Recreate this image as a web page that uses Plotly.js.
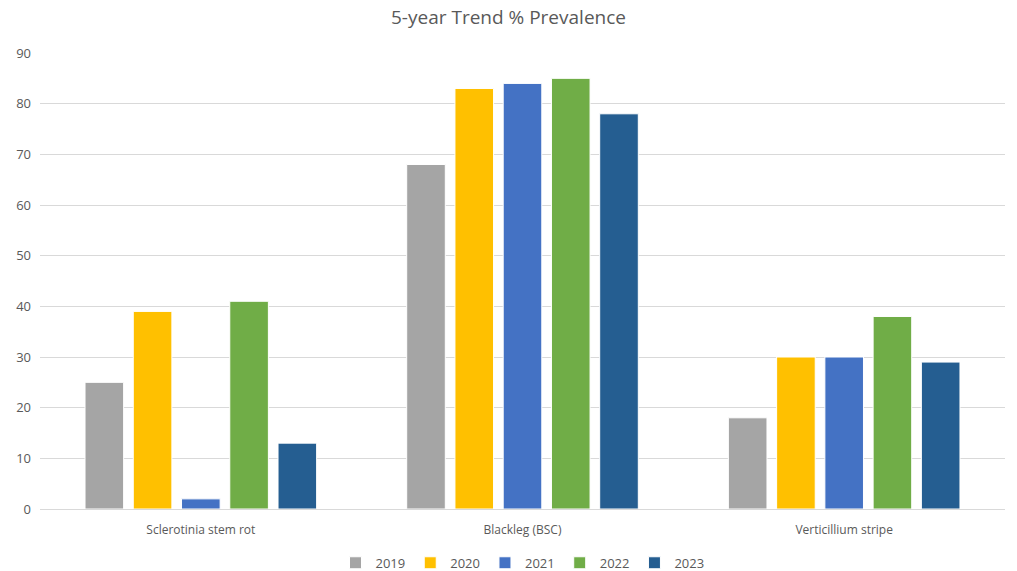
<!DOCTYPE html>
<html>
<head>
<meta charset="utf-8">
<script src="https://cdn.plot.ly/plotly-3.0.1.min.js"></script>
<style>html,body{margin:0;padding:0;background:#fff;}#chart{width:1017px;height:571px;}</style>
</head>
<body>
<div id="chart"></div>
<script>
const categories = ["Sclerotinia stem rot", "Blackleg (BSC)", "Verticillium stripe"];
const years = ["2019", "2020", "2021", "2022", "2023"];
const v2019 = [25, 68, 18];
const v2020 = [39, 83, 30];
const v2021 = [2, 84, 30];
const v2022 = [41, 85, 38];
const v2023 = [13, 78, 29];
const colors = ["#A5A5A5", "#FFC000", "#4472C4", "#70AD47", "#255E91"];

const series = [v2019, v2020, v2021, v2022, v2023];
const traces = series.map((vals, i) => ({
  type: "bar",
  name: years[i],
  x: categories,
  y: vals,
  marker: {color: colors[i], line: {color: "#ffffff", width: 1}},
  hoverinfo: "x+y+name"
}));

const layout = {
  width: 1017, height: 571,
  margin: {l: 40, r: 12, t: 53, b: 62, autoexpand: false},
  paper_bgcolor: "#fff", plot_bgcolor: "#fff",
  font: {family: "Open Sans, Liberation Sans, sans-serif", size: 12, color: "#595959"},
  title: {text: "5-year Trend % Prevalence", x: 0.5, xanchor: "center", y: 0.982, yanchor: "top",
          font: {size: 19, color: "#595959"}},
  barmode: "group",
  bargap: 0.25,
  bargroupgap: 0.2,
  xaxis: {showgrid: false, showline: true, linecolor: "#d9d9d9", linewidth: 1, ticks: "",
          ticklabelstandoff: 10, tickfont: {size: 12, color: "#595959"}},
  yaxis: {range: [0, 90], dtick: 10, showgrid: true, gridcolor: "#d9d9d9", gridwidth: 1,
          zeroline: false, showline: false, ticks: "", ticklabelstandoff: 8,
          tickfont: {size: 13, color: "#595959"}},
  showlegend: true,
  legend: {orientation: "h", x: 0.5, xanchor: "center", y: -0.118, yanchor: "middle",
           font: {size: 13, color: "#595959"}, itemwidth: 30, traceorder: "normal"}
};

Plotly.newPlot("chart", traces, layout, {displayModeBar: false, staticPlot: true});
</script>
</body>
</html>
